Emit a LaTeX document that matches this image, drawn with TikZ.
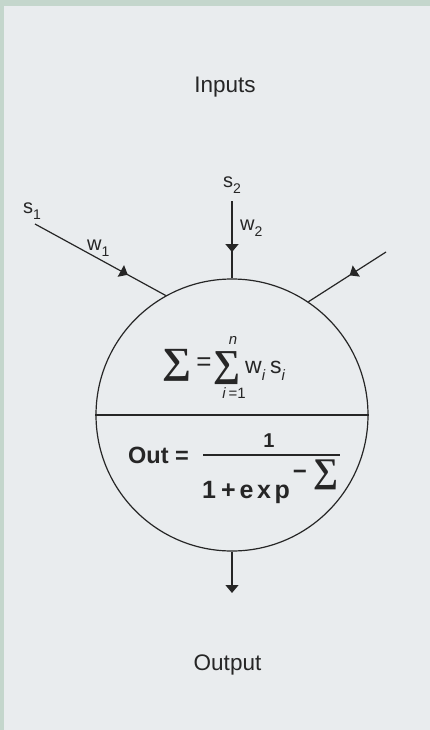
\documentclass[tikz,border=0pt]{standalone}
\usepackage{fontspec}
\setmainfont{Liberation Sans}
\newfontfamily\sumfont{Liberation Serif}
\usepackage{graphicx}
\usetikzlibrary{arrows.meta,decorations.markings}
\definecolor{outerbg}{RGB}{196,214,204}
\definecolor{panelbg}{RGB}{233,236,238}
\definecolor{ink}{RGB}{38,38,38}
\newcommand\SumGlyph[2]{\resizebox*{#1}{#2}{\sumfont\bfseries ∑}}
\newcommand\subl[1]{\raisebox{-6pt}{\fontsize{14}{14}\selectfont #1}}
\newcommand\subit{\raisebox{-7pt}{\fontsize{15}{15}\selectfont\itshape i}}
\begin{document}
\begin{tikzpicture}[x=1pt,y=-1pt,
  txt/.style={inner sep=0pt, text=ink},
  wire/.style={draw=ink, line width=1.2pt},
  midarrow/.style={postaction={decorate}, decoration={markings, mark=at position #1 with {\arrow[ink]{Triangle[width=13pt,length=8pt]}}}},
  labelfont/.style={font=\fontsize{20}{24}\selectfont},
  bigfont/.style={font=\fontsize{22.5}{27}\selectfont},
]
% background
\fill[outerbg] (0,0) rectangle (430,730);
\fill[panelbg] (4,6) rectangle (430,730);
\useasboundingbox (0,0) rectangle (430,730);

% titles
\node[txt, bigfont, anchor=base] (inputs) at (225,93) {Inputs};
\node[txt, bigfont, anchor=base] (output) at (227.5,670) {Output};

% neuron
\node[circle, draw=ink, line width=1.2pt, minimum size=272pt, inner sep=0pt] (neuron) at (232,415) {};
\draw[wire] (neuron.west) -- (neuron.east);

% inputs
\coordinate (s1a) at (35,224);
\coordinate (s2a) at (232,201);
\coordinate (s3a) at (386,252);
\coordinate (outtip) at (232,593);
\draw[wire, midarrow=0.71] (s1a) -- (neuron.119);
\draw[wire, midarrow=0.66] (s2a) -- (neuron.north);
\draw[wire, midarrow=0.47] (s3a) -- (neuron.56);
\draw[wire, -{Triangle[width=13pt,length=8pt]}] (neuron.south) -- (outtip);

% input labels
\node[txt, labelfont, anchor=base west] (s1) at (23,213) {s\subl{1}};
\node[txt, labelfont, anchor=base west] (w1) at (87,250) {w\subl{1}};
\node[txt, labelfont, anchor=base west] (s2) at (223,187) {s\subl{2}};
\node[txt, labelfont, anchor=base west] (w2) at (240,230) {w\subl{2}};

% upper equation
\node[txt] (bigsig) at (176.5,365.5) {\SumGlyph{29pt}{32pt}};
\node[txt, font=\fontsize{26}{26}\selectfont] (eqa) at (204,364.5) {=};
\node[txt] (sum) at (226.5,368) {\SumGlyph{27pt}{33pt}};
\node[txt, font=\fontsize{15}{15}\selectfont\itshape] (nlim) at (233,340) {n};
\node[txt, font=\fontsize{15}{15}\selectfont] (ilim) at (234,393) {\textit{i}\,=1};
\node[txt, anchor=base west, font=\fontsize{23}{23}\selectfont] (ws) at (245,373) {w\subit\kern5pt s\subit};

% lower equation
\node[txt, anchor=base west, font=\bfseries\fontsize{23.5}{24}\selectfont] (outlbl) at (128,463) {Out =};
\coordinate (barL) at (203,455);
\coordinate (barR) at (340,455);
\draw[ink, line width=1.2pt] (barL) -- (barR);
\node[txt, anchor=base, font=\bfseries\fontsize{20}{20}\selectfont] (num) at (269,447) {1};
\node[txt, anchor=base west, font=\bfseries\fontsize{25}{25}\selectfont] (den) at (202,498) {1\kern5pt+\kern4pt e\kern3.5pt x\kern3.5pt p};
\node[txt, font=\bfseries\fontsize{24}{24}\selectfont] (minus) at (300,475) {−};
\node[txt] (expsig) at (325.5,475) {\SumGlyph{25pt}{30pt}};
\end{tikzpicture}
\end{document}
